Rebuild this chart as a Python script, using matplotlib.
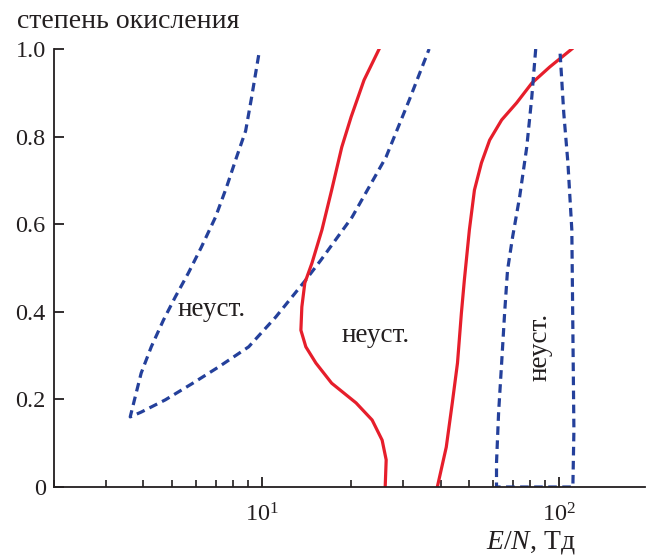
import numpy as np
import matplotlib
matplotlib.use('Agg')
import matplotlib.pyplot as plt
from matplotlib.ticker import LogLocator, NullFormatter

plt.rcParams['font.family'] = ['Liberation Serif', 'DejaVu Serif']
plt.rcParams['mathtext.fontset'] = 'custom'
plt.rcParams['mathtext.rm'] = 'Liberation Serif'
plt.rcParams['mathtext.it'] = 'Liberation Serif:italic'

# left unstable wedge (blue dashed), from top of upper branch round the tip
wedge1_x = [9.77, 9.25, 8.83, 8.23, 7.62, 6.99, 6.27, 5.67, 5.12, 4.67, 4.25, 3.93, 3.75, 3.61,
            3.93, 4.74, 5.80, 7.16, 9.04, 11.15, 14.08, 15.82, 20.14, 26.2, 31.4, 36.6]
wedge1_y = [0.986, 0.890, 0.813, 0.753, 0.685, 0.616, 0.548, 0.489, 0.434, 0.381, 0.320, 0.260, 0.205, 0.160,
            0.171, 0.199, 0.235, 0.274, 0.320, 0.388, 0.473, 0.518, 0.616, 0.753, 0.884, 1.0]

# middle red boundary
red1_x = [24.85, 22.1, 20.0, 18.6, 17.2, 15.95, 14.76, 13.97, 13.65, 13.55, 14.08, 15.22,
          17.2, 20.78, 23.53, 25.43, 26.24, 26.04]
red1_y = [1.0, 0.929, 0.845, 0.776, 0.678, 0.587, 0.511, 0.466, 0.411, 0.358, 0.320, 0.283,
          0.237, 0.192, 0.153, 0.107, 0.062, 0.0]

# right red boundary
red2_x = [39.0, 41.8, 43.8, 45.6, 47.0, 48.1, 50.0, 52.0, 54.9, 58.5, 64.2, 72.1, 81.1, 93.2, 110.6]
red2_y = [0.0, 0.091, 0.192, 0.283, 0.397, 0.473, 0.587, 0.678, 0.740, 0.792, 0.838, 0.877, 0.922, 0.959, 1.0]

# right unstable wedge (blue dashed)
wedge2_x = [83.6, 81.1, 78.0, 73.8, 69.9, 67.2, 65.7, 64.2, 62.7, 61.7, 61.7,
            111.5, 112.4, 111.5, 110.6, 107.3, 103.9, 100.8]
wedge2_y = [1.0, 0.890, 0.776, 0.662, 0.571, 0.495, 0.397, 0.283, 0.169, 0.055, 0.0,
            0.0, 0.130, 0.358, 0.587, 0.740, 0.854, 1.0]

y_ticks = [0, 0.2, 0.4, 0.6, 0.8, 1.0]
y_labels = ['0', '0.2', '0.4', '0.6', '0.8', '1.0']

blue = '#24409b'
red = '#e61e2b'
ink = '#231f20'

fig = plt.figure(figsize=(6.47, 5.55), dpi=100)
ax = fig.add_axes([54 / 647, 1 - 487 / 555, (645 - 54) / 647, (487 - 49) / 555])

ax.plot(wedge1_x, wedge1_y, color=blue, lw=2.3, dashes=(2.7, 1.7))
ax.plot(red1_x, red1_y, color=red, lw=2.3)
ax.plot(red2_x, red2_y, color=red, lw=2.3)
ax.plot(wedge2_x, wedge2_y, color=blue, lw=2.3, dashes=(2.7, 1.7))

ax.set_xscale('log')
ax.set_xlim(2.0, 195)
ax.set_ylim(0, 1.0)
ax.xaxis.set_major_locator(LogLocator(base=10, numticks=5))
ax.xaxis.set_minor_locator(LogLocator(base=10, subs=np.arange(2, 10), numticks=12))
ax.xaxis.set_minor_formatter(NullFormatter())
ax.set_yticks(y_ticks)
ax.set_yticklabels(y_labels)

for s in ['top', 'right']:
    ax.spines[s].set_visible(False)
for s in ['left', 'bottom']:
    ax.spines[s].set_linewidth(1.3)
    ax.spines[s].set_color(ink)

ax.tick_params(axis='both', which='major', direction='in', length=7, width=1.3,
               colors=ink, labelsize=17.5, labelcolor=ink)
ax.tick_params(axis='x', which='minor', direction='in', length=5, width=1.2, colors=ink)
ax.tick_params(axis='x', which='major', pad=12)
ax.tick_params(axis='y', which='major', pad=6)

ax.text(6.78, 0.405, 'неуст.', fontsize=19.5, color=ink, ha='center', va='center')
ax.text(24.1, 0.345, 'неуст.', fontsize=19.5, color=ink, ha='center', va='center')
ax.text(86.3, 0.32, 'неуст.', fontsize=19.5, color=ink, ha='center', va='center', rotation=90)

fig.text(17 / 647, 1 - 21 / 555, 'степень окисления', fontsize=20, color=ink, ha='left', va='center')
fig.text(576 / 647, 1 - 543 / 555, '$E/N$, Тд', fontsize=20, color=ink, ha='right', va='center')

fig.savefig('out.png', dpi=100)
